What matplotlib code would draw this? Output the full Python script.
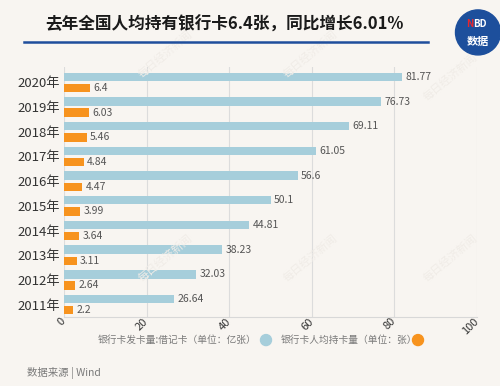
import matplotlib
matplotlib.use("Agg")
import matplotlib.pyplot as plt
from matplotlib.patches import Ellipse
import numpy as np

plt.rcParams['font.family'] = ['Noto Sans CJK SC', 'DejaVu Sans']

years = ['2011年', '2012年', '2013年', '2014年', '2015年',
         '2016年', '2017年', '2018年', '2019年', '2020年']
debit_cards = [26.64, 32.03, 38.23, 44.81, 50.1, 56.6, 61.05, 69.11, 76.73, 81.77]
cards_per_person = [2.2, 2.64, 3.11, 3.64, 3.99, 4.47, 4.84, 5.46, 6.03, 6.4]

bg = '#f8f5f1'
blue = '#a6cedb'
orange = '#f7931e'

fig = plt.figure(figsize=(5, 3.86), dpi=100, facecolor=bg)
ax = fig.add_axes([0.128, 0.179, 0.826, 0.647], facecolor=bg)

y = np.arange(len(years))
off = 0.225
h = 0.34
ax.barh(y + off, debit_cards, height=h, color=blue, zorder=3)
ax.barh(y - off, cards_per_person, height=h, color=orange, zorder=3)

for yi, v in zip(y, debit_cards):
    ax.text(v + 0.8, yi + off, f'{v:g}', va='center', ha='left', fontsize=7.5, color='#555555')
for yi, v in zip(y, cards_per_person):
    ax.text(v + 0.8, yi - off, f'{v:g}', va='center', ha='left', fontsize=7.5, color='#555555')

ax.set_xlim(0, 100)
ax.set_ylim(-0.5, 9.62)
ax.set_xticks([0, 20, 40, 60, 80, 100])
ax.set_xticklabels(['0', '20', '40', '60', '80', '100'], rotation=45, ha='right', va='center',
                   rotation_mode='anchor', fontsize=8, color='#333333')
ax.set_yticks(y)
ax.set_yticklabels(years, fontsize=9.5, color='#333333')
ax.tick_params(axis='y', length=0, pad=3)
ax.tick_params(axis='x', length=0, pad=2)
ax.grid(axis='x', color='#dcdcdc', linewidth=0.8, zorder=0)
for s in ['top', 'right', 'left']:
    ax.spines[s].set_visible(False)
ax.spines['bottom'].set_color('#d8d8d8')

# title and underline
fig.text(0.09, 0.935, '去年全国人均持有银行卡6.4张，同比增长6.01%', fontsize=12, fontweight='bold',
         color='#1a1a1a', va='center', ha='left')
fig.add_artist(plt.Line2D([0.048, 0.856], [0.891, 0.891], color='#1f4e9c', linewidth=1.8))

# logo
fig.add_artist(Ellipse((0.956, 0.916), 0.09, 0.1166, color='#1d4f9c'))
fig.text(0.946, 0.938, 'N', fontsize=7, fontweight='bold', color='#e8262d', ha='right', va='center')
fig.text(0.946, 0.938, 'BD', fontsize=7, fontweight='bold', color='white', ha='left', va='center')
fig.text(0.955, 0.893, '数据', fontsize=8, fontweight='bold', color='white', ha='center', va='center')

# watermarks
for wx, wy in [(0.33, 0.86), (0.62, 0.86), (0.9, 0.8), (0.33, 0.33), (0.62, 0.33), (0.9, 0.33)]:
    fig.text(wx, wy, '每日经济新闻', fontsize=8, color='#f0ece7', rotation=40,
             ha='center', va='center', zorder=0)

# legend
fig.text(0.512, 0.119, '银行卡发卡量:借记卡（单位：亿张）', fontsize=7, color='#7a7a7a',
         ha='right', va='center')
fig.add_artist(Ellipse((0.532, 0.119), 0.022, 0.0285, color=blue))
fig.text(0.562, 0.119, '银行卡人均持卡量（单位：张）', fontsize=7, color='#7a7a7a',
         ha='left', va='center')
fig.add_artist(Ellipse((0.836, 0.119), 0.022, 0.0285, color=orange))

fig.text(0.054, 0.034, '数据来源 | Wind', fontsize=7.5, color='#7a7a7a', ha='left', va='center')

fig.savefig('out.png', dpi=100, facecolor=bg)
